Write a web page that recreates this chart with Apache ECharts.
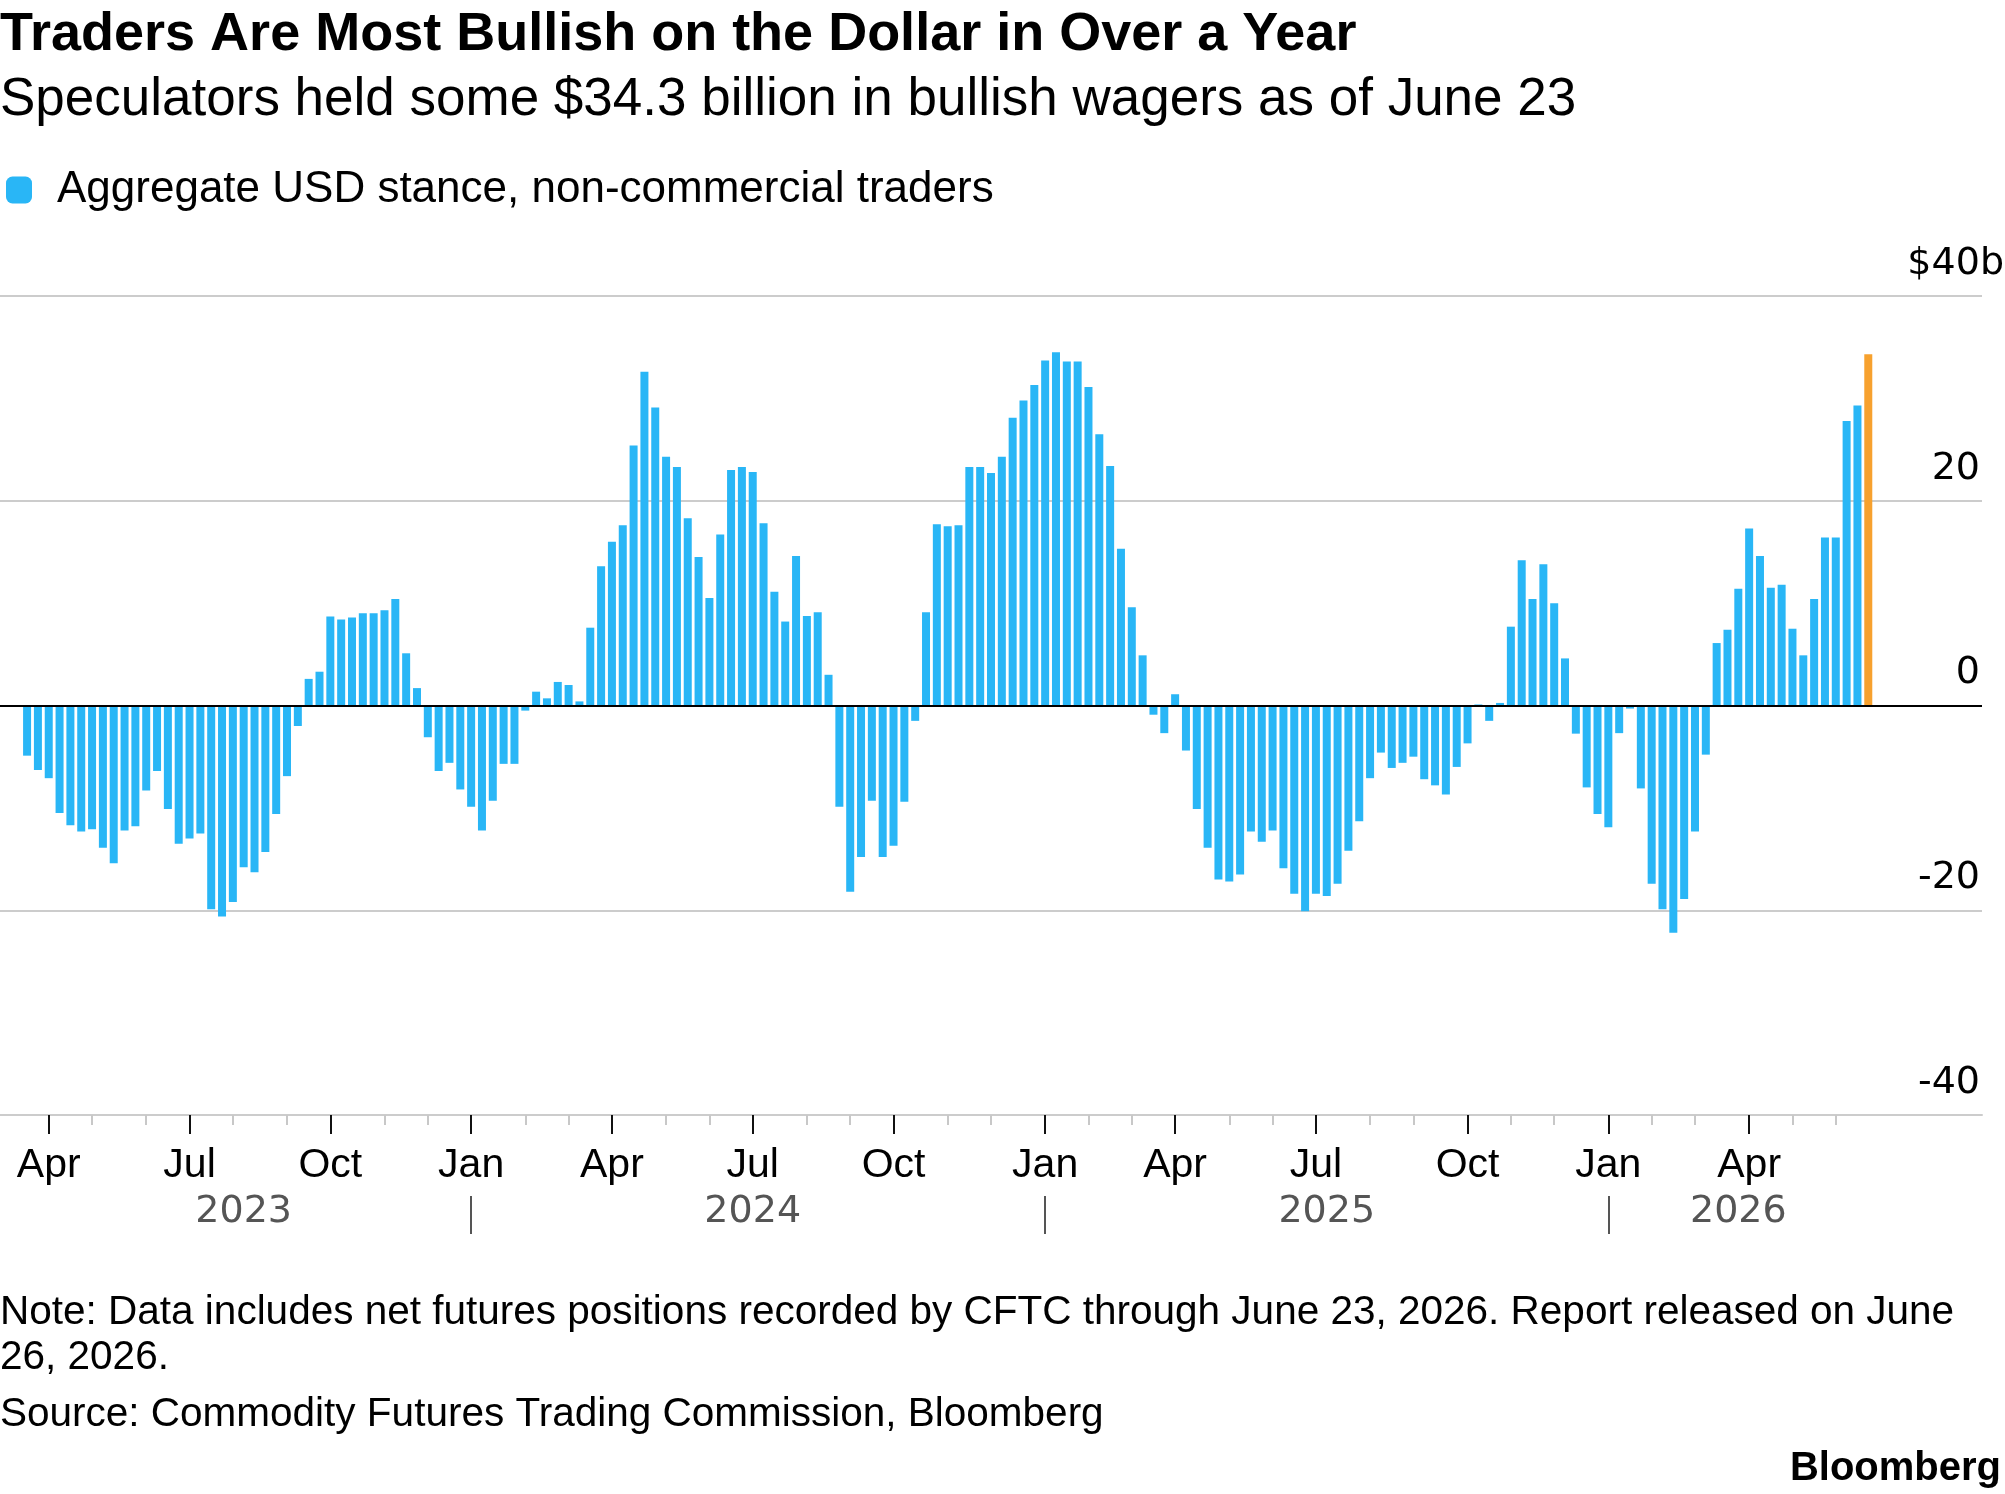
<!DOCTYPE html>
<html>
<head>
<meta charset="utf-8">
<title>Traders Are Most Bullish on the Dollar in Over a Year</title>
<script src="https://cdn.jsdelivr.net/npm/echarts@6/dist/echarts.min.js"></script>
<style>
  html, body { margin: 0; padding: 0; background: #fff; }
  #chart { width: 2005px; height: 1494px; }
</style>
</head>
<body>
<div id="chart"></div>
<script>
// weekly CFTC readings (Tuesdays), $ billions, first one on 2023-03-21
const firstWeek = '2023-03-21';
const seriesName = 'Aggregate USD stance, non-commercial traders';
const usdStance = [
  -4.9, -6.3, -7.1, -10.5, -11.7, -12.3, -12.1, -13.9, -15.4, -12.2, -11.8, -8.3,
  -6.4, -10.1, -13.5, -13.0, -12.5, -19.9, -20.6, -19.2, -15.8, -16.3, -14.3, -10.6,
  -6.9, -2.0, 2.6, 3.3, 8.7, 8.4, 8.6, 9.0, 9.0, 9.3, 10.4, 5.1, 1.7,
  -3.1, -6.4, -5.6, -8.2, -9.9, -12.2, -9.3, -5.7, -5.7, -0.5, 1.35, 0.7,
  2.3, 2.0, 0.4, 7.6, 13.6, 16.0, 17.6, 25.4, 32.6, 29.1, 24.3, 23.3, 18.3,
  14.5, 10.5, 16.7, 23.0, 23.3, 22.8, 17.8, 11.1, 8.2, 14.6, 8.75, 9.1,
  3.0, -9.9, -18.2, -14.8, -9.3, -14.8, -13.7, -9.4, -1.5, 9.1, 17.7, 17.5,
  17.6, 23.3, 23.3, 22.7, 24.3, 28.1, 29.8, 31.3, 33.7, 34.5, 33.6, 33.6, 31.1,
  26.5, 23.4, 15.3, 9.6, 4.9, -0.9, -2.7, 1.1, -4.4, -10.1, -13.9, -17.0,
  -17.2, -16.5, -12.3, -13.3, -12.2, -15.9, -18.4, -20.1, -18.4, -18.6, -17.4, -14.2, -11.3,
  -7.1, -4.6, -6.1, -5.6, -5.0, -7.2, -7.8, -8.7, -6.0, -3.7, 0.1, -1.5,
  0.25, 7.7, 14.2, 10.4, 13.8, 10.0, 4.6, -2.75, -8.0, -10.6, -11.9, -2.7, -0.3,
  -8.1, -17.4, -19.9, -22.2, -18.9, -12.3, -4.8, 6.1, 7.4, 11.4, 17.3,
  14.6, 11.5, 11.8, 7.5, 4.9, 10.4, 16.4, 16.4, 27.8, 29.3, 34.3
];
const monthNames = ['Jan', 'Feb', 'Mar', 'Apr', 'May', 'Jun', 'Jul', 'Aug', 'Sep', 'Oct', 'Nov', 'Dec'];
const quarterMonths = [0, 3, 6, 9];
const yearLabels = ['2023', '2024', '2025', '2026'];
const yTopLabel = '$40b';

const FONT = '"Liberation Sans", Arial, sans-serif';
const NUM_FONT = '"DejaVu Sans", sans-serif';
const BLUE = '#29B6F6';
const ORANGE = '#F7A12E';

// week dates, plus a little empty room on each side of the bars
const weeks = usdStance.map((v, i) => {
    const d = new Date(firstWeek + 'T00:00:00Z');
    d.setUTCDate(d.getUTCDate() + 7 * i);
    return d.toISOString().slice(0, 10);
});
const padBefore = 2;
const padAfter = 10;
const categories = [];
for (let i = 0; i < padBefore; i++) categories.push('_a' + i);
weeks.forEach(w => categories.push(w));
for (let i = 0; i < padAfter; i++) categories.push('_b' + i);

const barData = categories.map((c, i) => {
    const k = i - padBefore;
    if (k < 0 || k >= usdStance.length) return '-';
    if (k === usdStance.length - 1) return { value: usdStance[k], itemStyle: { color: ORANGE } };
    return usdStance[k];
});

function weekInfo(idx) {
    const c = categories[idx];
    if (!c || c[0] === '_') return null;
    return { y: c.slice(0, 4), m: +c.slice(5, 7) - 1, d: +c.slice(8, 10) };
}
const isMonthStart = idx => { const w = weekInfo(idx); return !!w && w.d <= 7; };
const isQuarterStart = idx => isMonthStart(idx) && quarterMonths.includes(weekInfo(idx).m);
const isYearStart = idx => isMonthStart(idx) && weekInfo(idx).m === 0;

// year label sits in the middle of that year's weeks
const yearMid = {};
yearLabels.forEach(y => {
    const idx = [];
    categories.forEach((c, i) => { if (c.startsWith(y)) idx.push(i); });
    yearMid[Math.round((idx[0] + idx[idx.length - 1]) / 2)] = y;
});

const chart = echarts.init(document.getElementById('chart'));

const option = {
    animation: false,
    backgroundColor: '#fff',
    textStyle: { fontFamily: FONT },
    title: [
        {
            text: 'Traders Are Most Bullish on the Dollar in Over a Year',
            left: 0, top: 8, padding: 0,
            textStyle: { fontFamily: FONT, fontSize: 54, fontWeight: 'bold', color: '#000' }
        },
        {
            text: 'Speculators held some $34.3 billion in bullish wagers as of June 23',
            left: 0, top: 74, padding: 0,
            textStyle: { fontFamily: FONT, fontSize: 53, fontWeight: 'normal', color: '#000' }
        },
        {
            text: 'Note: Data includes net futures positions recorded by CFTC through June 23, 2026. Report released on June\n26, 2026.',
            left: 0, top: 1290, padding: 0,
            textStyle: { fontFamily: FONT, fontSize: 40.5, lineHeight: 45, fontWeight: 'normal', color: '#000' }
        },
        {
            text: 'Source: Commodity Futures Trading Commission, Bloomberg',
            left: 0, top: 1394, padding: 0,
            textStyle: { fontFamily: FONT, fontSize: 40.5, fontWeight: 'normal', color: '#000' }
        },
        {
            text: 'Bloomberg',
            right: 4, top: 1449, padding: 0,
            textStyle: { fontFamily: FONT, fontSize: 40, fontWeight: 'bold', color: '#000' }
        }
    ],
    legend: {
        left: 6, top: 168, padding: 0,
        icon: 'roundRect', itemWidth: 26, itemHeight: 27,
        textStyle: { fontFamily: FONT, fontSize: 44, color: '#000', padding: [0, 0, 0, 20] },
        data: [seriesName]
    },
    grid: { left: 0, right: 23, top: 296, bottom: 379, outerBoundsMode: 'none' },
    xAxis: [
        {
            // month labels and quarter ticks
            type: 'category', data: categories, position: 'bottom',
            axisLine: { show: true, onZero: false, lineStyle: { color: '#cccccc', width: 2 } },
            axisTick: {
                show: true, alignWithLabel: true, length: 19,
                interval: i => isQuarterStart(i),
                lineStyle: { color: '#111', width: 2 }
            },
            axisLabel: {
                interval: i => isQuarterStart(i),
                formatter: v => monthNames[+v.slice(5, 7) - 1],
                fontFamily: FONT, fontSize: 41, color: '#000', margin: 30
            },
            splitLine: { show: false }
        },
        {
            // other months, light ticks
            type: 'category', data: categories, position: 'bottom',
            axisLine: { show: false, onZero: false },
            axisTick: {
                show: true, alignWithLabel: true, length: 10,
                interval: i => isMonthStart(i) && !isQuarterStart(i),
                lineStyle: { color: '#c8c8c8', width: 2 }
            },
            axisLabel: { show: false },
            splitLine: { show: false }
        },
        {
            // years
            type: 'category', data: categories, position: 'bottom',
            axisLine: { show: false, onZero: false },
            axisTick: { show: false },
            axisLabel: {
                interval: i => yearMid[i] !== undefined,
                formatter: v => v.slice(0, 4),
                fontFamily: NUM_FONT, fontSize: 38, color: '#555', margin: 78
            },
            splitLine: { show: false }
        },
        {
            // separators between years
            type: 'category', data: categories, position: 'bottom', offset: 81,
            axisLine: { show: false, onZero: false },
            axisTick: {
                show: true, alignWithLabel: true, length: 38,
                interval: i => isYearStart(i),
                lineStyle: { color: '#555', width: 2 }
            },
            axisLabel: { show: false },
            splitLine: { show: false }
        }
    ],
    yAxis: {
        type: 'value', position: 'right',
        min: -40, max: 40, interval: 20,
        axisLine: { show: false },
        axisTick: { show: false },
        splitLine: { lineStyle: { color: '#cccccc', width: 2 } },
        axisLabel: {
            // the unit "b" hangs past the right end of the lines
            inside: true, margin: -22,
            verticalAlign: 'bottom',
            formatter: v => v === 40 ? '{t|' + yTopLabel + '}' : '{n|' + v + '}',
            rich: {
                t: { fontFamily: NUM_FONT, fontSize: 38, color: '#000', padding: [0, 0, 13, 0] },
                n: { fontFamily: NUM_FONT, fontSize: 38, color: '#000', padding: [0, 24, 13, 0] }
            }
        }
    },
    series: [
        {
            name: seriesName,
            type: 'bar',
            xAxisIndex: 0,
            barWidth: 8,
            itemStyle: { color: BLUE },
            data: barData,
            markLine: {
                silent: true,
                symbol: 'none',
                label: { show: false },
                lineStyle: { color: '#000', width: 2, type: 'solid' },
                data: [{ yAxis: 0 }]
            }
        }
    ]
};

chart.setOption(option);
</script>
</body>
</html>
